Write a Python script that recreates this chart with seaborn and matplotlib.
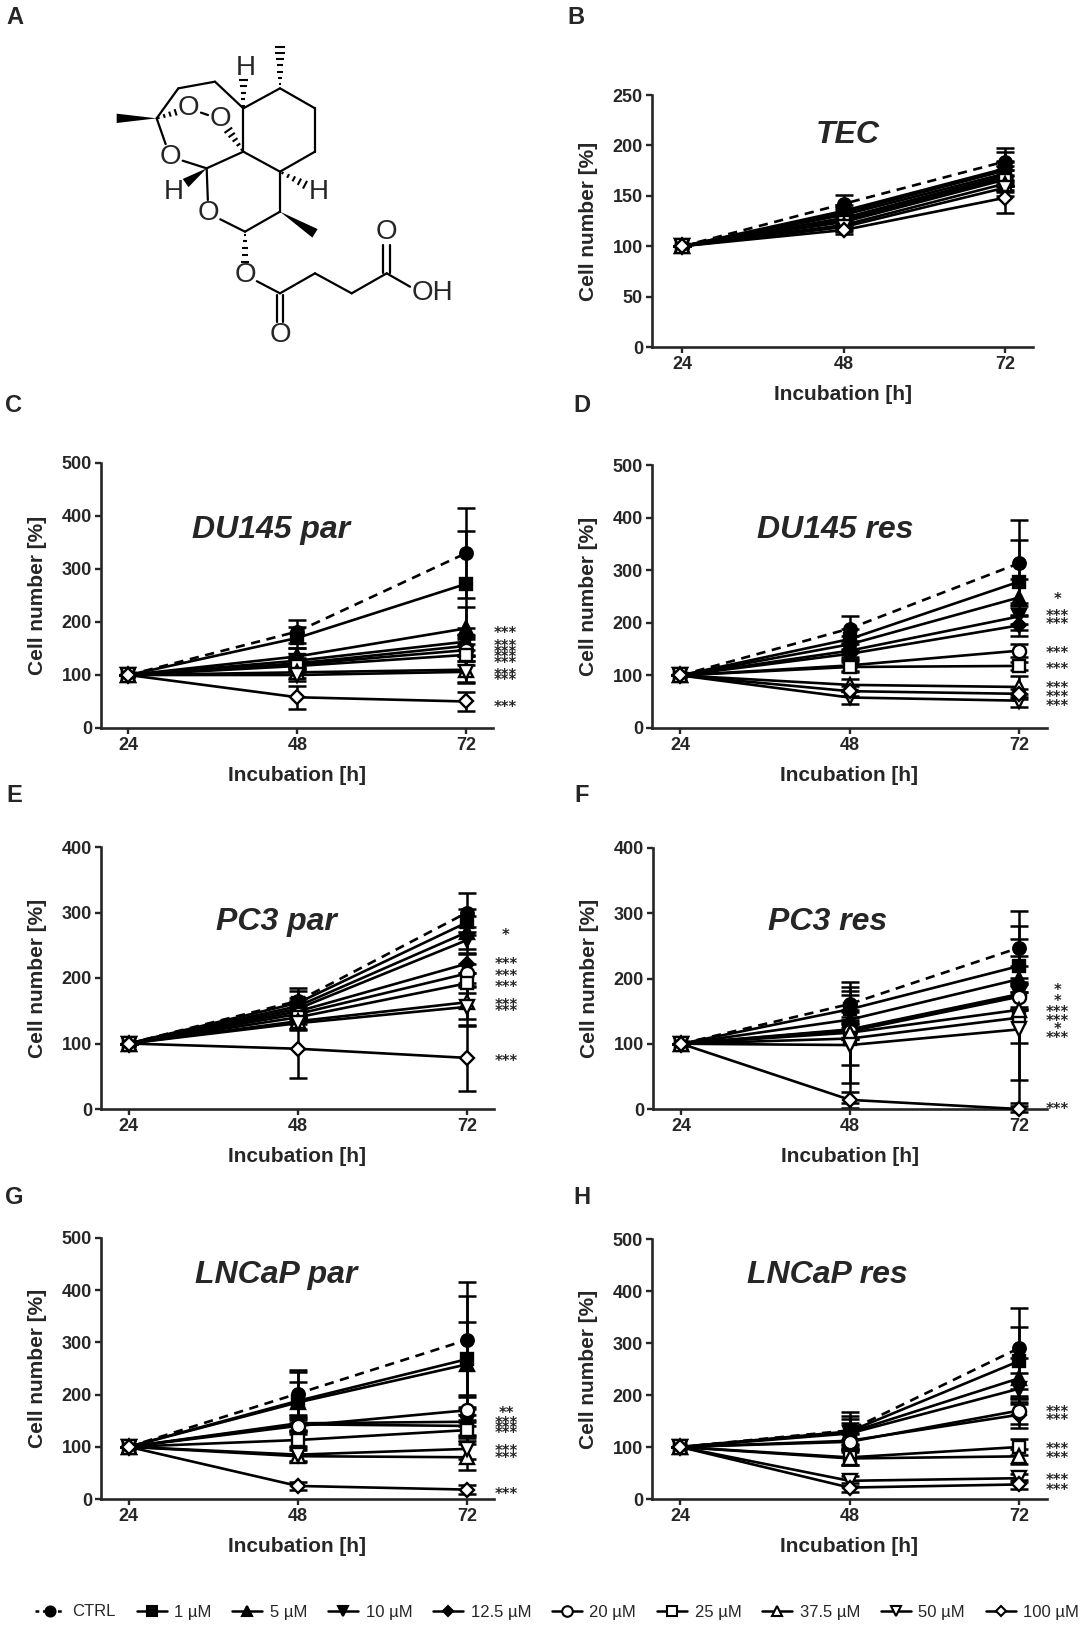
"""
Artesunate-like compound figure: structure (A) and cell growth curves (B-H)
"""
import numpy as np
import pandas as pd
import matplotlib
matplotlib.use("Agg")
import matplotlib.pyplot as plt
import matplotlib.transforms as mtransforms
from matplotlib.lines import Line2D
from matplotlib.patches import Polygon
import seaborn as sns

W, H = 1086, 1625

# 1. Data
TIMES = [24, 48, 72]
CONCS = ["CTRL", "1 µM", "5 µM", "10 µM", "12.5 µM", "20 µM", "25 µM", "37.5 µM", "50 µM", "100 µM"]

TEC_48 = [142, 135, 133, 131, 128, 126, 124, 121, 119, 116]
TEC_72 = [184, 177, 175, 172, 170, 168, 166, 162, 158, 148]
TEC_SD48 = [9, 6, 5, 5, 5, 4, 4, 4, 4, 4]
TEC_SD72 = [13, 16, 10, 12, 10, 8, 10, 8, 8, 15]

DUP_48 = [182, 170, 135, 127, 122, 120, 117, 105, 100, 58]
DUP_72 = [330, 272, 188, 163, 155, 147, 138, 110, 106, 50]
DUP_SD48 = [22, 20, 15, 12, 10, 10, 12, 10, 12, 22]
DUP_SD72 = [85, 100, 40, 25, 20, 20, 20, 25, 20, 18]
DUP_STAR_Y = [186, 161, 150, 140, 128, 106, 96, 45]
DUP_STAR_T = ["***", "***", "***", "***", "***", "***", "***", "***"]

DUR_48 = [189, 169, 159, 147, 141, 119, 116, 82, 58, 70]
DUR_72 = [313, 278, 248, 212, 195, 147, 118, 78, 52, 65]
DUR_SD48 = [24, 20, 15, 12, 10, 10, 10, 12, 12, 10]
DUR_SD72 = [82, 80, 35, 25, 20, 12, 8, 20, 12, 10]
DUR_STAR_Y = [251, 219, 205, 148, 119, 82, 66, 49]
DUR_STAR_T = ["*", "***", "***", "***", "***", "***", "***", "***"]

PCP_48 = [165, 162, 157, 153, 149, 145, 140, 134, 131, 92]
PCP_72 = [300, 285, 270, 258, 222, 207, 192, 163, 156, 78]
PCP_SD48 = [15, 22, 12, 12, 10, 10, 10, 12, 10, 45]
PCP_SD72 = [30, 20, 25, 20, 15, 15, 15, 25, 30, 50]
PCP_STAR_Y = [270, 226, 208, 192, 164, 154, 79]
PCP_STAR_T = ["*", "***", "***", "***", "***", "***", "***"]

PCR_48 = [161, 153, 137, 122, 121, 119, 108, 117, 98, 14]
PCR_72 = [247, 219, 199, 176, 174, 172, 140, 152, 122, 0]
PCR_SD48 = [20, 22, 15, 15, 12, 12, 41, 77, 89, 12]
PCR_SD72 = [56, 62, 20, 25, 20, 20, 39, 108, 113, 4]
PCR_STAR_Y = [188, 171, 154, 140, 127, 114, 5]
PCR_STAR_T = ["*", "*", "***", "***", "*", "***", "***"]

LNP_48 = [202, 188, 185, 145, 143, 140, 113, 82, 85, 25]
LNP_72 = [305, 268, 258, 148, 140, 170, 132, 80, 96, 18]
LNP_SD48 = [45, 55, 40, 15, 12, 12, 12, 12, 12, 8]
LNP_SD72 = [110, 120, 82, 25, 20, 30, 20, 25, 20, 8]
LNP_STAR_Y = [171, 152, 142, 132, 98, 84, 16]
LNP_STAR_T = ["**", "***", "***", "***", "***", "***", "***"]

LNR_48 = [132, 130, 128, 126, 112, 110, 80, 78, 35, 22]
LNR_72 = [290, 265, 232, 212, 162, 170, 100, 82, 40, 28]
LNR_SD48 = [35, 30, 25, 20, 15, 15, 15, 12, 10, 8]
LNR_SD72 = [78, 66, 40, 30, 25, 25, 15, 15, 8, 8]
LNR_STAR_Y = [174, 159, 103, 86, 42, 24]
LNR_STAR_T = ["***", "***", "***", "***", "***", "***"]

# 2. Styles
MARKERS = ["o", "s", "^", "v", "D", "o", "s", "^", "v", "D"]
FILLED = [True, True, True, True, True, False, False, False, False, False]
MSIZE = [9, 9, 9.5, 9.5, 7, 9.5, 9, 9.5, 9.5, 7]

PANELS = [
    dict(key="B", title="TEC", m48=TEC_48, m72=TEC_72, s48=TEC_SD48, s72=TEC_SD72,
         sy=[], st=[], ymax=250, ystep=50, rect=(652, 95, 1033, 347),
         xlim=(19.5, 76.2), txy=(48.7, 210), lxy=(576, 18)),
    dict(key="C", title="DU145 par", m48=DUP_48, m72=DUP_72, s48=DUP_SD48, s72=DUP_SD72,
         sy=DUP_STAR_Y, st=DUP_STAR_T, ymax=500, ystep=100, rect=(101, 463, 493, 728),
         xlim=(20.1, 75.8), txy=(44.2, 374), lxy=(14, 405)),
    dict(key="D", title="DU145 res", m48=DUR_48, m72=DUR_72, s48=DUR_SD48, s72=DUR_SD72,
         sy=DUR_STAR_Y, st=DUR_STAR_T, ymax=500, ystep=100, rect=(652, 465, 1047, 728),
         xlim=(20.0, 76.0), txy=(46.0, 376), lxy=(582, 405)),
    dict(key="E", title="PC3 par", m48=PCP_48, m72=PCP_72, s48=PCP_SD48, s72=PCP_SD72,
         sy=PCP_STAR_Y, st=PCP_STAR_T, ymax=400, ystep=100, rect=(101, 847, 494, 1109),
         xlim=(20.1, 75.8), txy=(44.9, 285), lxy=(14, 796)),
    dict(key="F", title="PC3 res", m48=PCR_48, m72=PCR_72, s48=PCR_SD48, s72=PCR_SD72,
         sy=PCR_STAR_Y, st=PCR_STAR_T, ymax=400, ystep=100, rect=(653, 848, 1047, 1109),
         xlim=(20.0, 76.0), txy=(44.8, 287), lxy=(582, 796)),
    dict(key="G", title="LNCaP par", m48=LNP_48, m72=LNP_72, s48=LNP_SD48, s72=LNP_SD72,
         sy=LNP_STAR_Y, st=LNP_STAR_T, ymax=500, ystep=100, rect=(101, 1238, 494, 1499),
         xlim=(20.1, 75.8), txy=(44.9, 429), lxy=(14, 1197)),
    dict(key="H", title="LNCaP res", m48=LNR_48, m72=LNR_72, s48=LNR_SD48, s72=LNR_SD72,
         sy=LNR_STAR_Y, st=LNR_STAR_T, ymax=500, ystep=100, rect=(652, 1239, 1047, 1499),
         xlim=(20.0, 76.0), txy=(44.8, 431), lxy=(582, 1197)),
]

sns.set_style("ticks")
plt.rcParams["font.family"] = ["Liberation Sans", "DejaVu Sans"]
plt.rcParams["axes.linewidth"] = 1.9


def px_rect(x0, y0, x1, y1):
    return [x0 / W, 1 - y1 / H, (x1 - x0) / W, (y1 - y0) / H]


def to_long(m48, m72):
    rows = []
    for i, c in enumerate(CONCS):
        for t, v in zip(TIMES, [100, m48[i], m72[i]]):
            rows.append({"Time": t, "Cell": v, "Conc": c})
    return pd.DataFrame(rows)


def plot_panel(fig, p):
    x0, y0, x1, y1 = p["rect"]
    ax = fig.add_axes(px_rect(x0, y0, x1, y1))
    df = to_long(p["m48"], p["m72"])
    for i, c in enumerate(CONCS):
        sub = df[df["Conc"] == c]
        sd = [0, p["s48"][i], p["s72"][i]]
        ax.errorbar(sub["Time"], sub["Cell"], yerr=sd, fmt="none", ecolor="k",
                    elinewidth=1.8, capsize=6.5, capthick=1.8, zorder=2, clip_on=False)
        sns.lineplot(data=sub, x="Time", y="Cell", ax=ax, color="k",
                     linestyle=(0, (3.5, 2.5)) if c == "CTRL" else "-", linewidth=1.9,
                     marker=MARKERS[i], markersize=MSIZE[i],
                     markerfacecolor="k" if FILLED[i] else "white",
                     markeredgecolor="k", markeredgewidth=1.7,
                     errorbar=None, legend=False, clip_on=False, zorder=3)
    ax.set_xlim(*p["xlim"])
    ax.set_ylim(0, p["ymax"])
    ax.set_xticks(TIMES)
    ax.set_yticks(np.arange(0, p["ymax"] + 1, p["ystep"]))
    for lab in ax.get_xticklabels() + ax.get_yticklabels():
        lab.set_fontweight("bold")
    ax.tick_params(axis="both", direction="out", length=4.5, width=1.7, labelsize=13, pad=2)
    sns.despine(ax=ax)
    ax.set_xlabel("Incubation [h]", fontsize=15, fontweight="bold")
    ax.set_ylabel("Cell number [%]", fontsize=15, fontweight="bold")
    ax.xaxis.set_label_coords(0.5, -38 / (y1 - y0))
    ax.yaxis.set_label_coords(-54 / (x1 - x0), 0.5)
    ax.text(p["txy"][0], p["txy"][1], p["title"], fontsize=23, fontweight="bold",
            fontstyle="italic", ha="center", va="center")
    star_tr = mtransforms.offset_copy(ax.transData, fig=fig, x=0, y=-6, units="points")
    for yv, t in zip(p["sy"], p["st"]):
        ax.text(77.5, yv, t, transform=star_tr, fontsize=10.5, fontweight="bold",
                family="DejaVu Sans", ha="center", va="baseline", clip_on=False)
    fig.text(p["lxy"][0] / W, 1 - p["lxy"][1] / H, p["key"], fontsize=17,
             fontweight="bold", ha="center", va="center")
    return ax


# 3. Chemical structure (panel A), drawn in image units
def bond(ax, a, b, ska=0, skb=0, lw=1.6):
    a, b = np.array(a, float), np.array(b, float)
    d = b - a
    u = d / np.hypot(*d)
    a2, b2 = a + u * ska, b - u * skb
    ax.plot([a2[0], b2[0]], [a2[1], b2[1]], color="k", lw=lw, solid_capstyle="round")


def hashed(ax, a, b, n=6, w0=3, w1=16, ska=0, skb=0):
    a, b = np.array(a, float), np.array(b, float)
    d = b - a
    u = d / np.hypot(*d)
    a, b = a + u * ska, b - u * skb
    d = b - a
    nrm = np.array([-u[1], u[0]])
    for t in np.linspace(0.1, 1, n):
        c = a + d * t
        hw = w0 + (w1 - w0) * t
        ax.plot([c[0] - nrm[0] * hw, c[0] + nrm[0] * hw],
                [c[1] - nrm[1] * hw, c[1] + nrm[1] * hw], color="k", lw=1.5,
                solid_capstyle="butt")


def wedge(ax, a, b, w=15, skb=0):
    a, b = np.array(a, float), np.array(b, float)
    d = b - a
    u = d / np.hypot(*d)
    b = b - u * skb
    nrm = np.array([-u[1], u[0]])
    ax.add_patch(Polygon([a, b + nrm * w, b - nrm * w], closed=True, color="k", lw=0))


def draw_structure(ax):
    ax.set_xlim(0, 1500)
    ax.set_ylim(1080, 0)
    ax.axis("off")
    C1, C2, C3, C4 = (840, 265), (945, 325), (945, 455), (840, 515)
    C5, C6, C7, C8, C9 = (730, 455), (730, 325), (645, 245), (535, 265), (470, 355)
    O10, O2, O11 = (565, 325), (662, 358), (510, 470)
    C12, O13, C14, C15 = (620, 505), (625, 640), (735, 695), (840, 635)
    O16, C17, O18 = (735, 825), (840, 880), (840, 1005)
    C19, C20, C21, O22, OH = (945, 820), (1055, 880), (1160, 820), (1160, 695), (1265, 880)
    s = 40
    for a, b in [(C6, C1), (C1, C2), (C2, C3), (C3, C4), (C4, C5), (C5, C6),
                 (C6, C7), (C7, C8), (C8, C9), (C12, C5), (C14, C15), (C15, C4),
                 (C17, C19), (C19, C20), (C20, C21)]:
        bond(ax, a, b)
    bond(ax, C9, O11, skb=s)
    bond(ax, O11, C12, ska=s)
    bond(ax, C12, O13, skb=s)
    bond(ax, O13, C14, ska=s)
    bond(ax, O16, C17, ska=s)
    bond(ax, O10, O2, ska=s, skb=s)
    bond(ax, C21, OH, skb=s)
    for off in (-10, 10):
        bond(ax, (C17[0] + off, C17[1] + 5), (O18[0] + off, O18[1]), skb=s)
        bond(ax, (C21[0] + off, C21[1]), (O22[0] + off, O22[1]), skb=s)
    hashed(ax, C1, (840, 140), n=7, w1=16)
    hashed(ax, C6, (730, 240), n=5, w1=13)
    hashed(ax, C9, O10, n=4, w1=10, skb=s)
    hashed(ax, C5, O2, n=5, w1=14, skb=s)
    hashed(ax, C4, (955, 575), n=5, w1=13, skb=45)
    hashed(ax, C14, O16, n=5, w1=12, skb=s)
    wedge(ax, C9, (350, 355), w=14)
    wedge(ax, C12, (520, 575), w=15, skb=45)
    wedge(ax, C15, (945, 700), w=15)
    for (x, y), t in [(O10, "O"), (O2, "O"), (O11, "O"), (O13, "O"), (O16, "O"),
                      (O18, "O"), (O22, "O"), ((1297, 880), "OH"), ((738, 205), "H"),
                      ((520, 575), "H"), ((955, 575), "H")]:
        ax.text(x, y, t, fontsize=20, ha="center", va="center")


fig = plt.figure(figsize=(W / 100, H / 100), dpi=100)
ax_a = fig.add_axes(px_rect(0, 0, 500, 360))
draw_structure(ax_a)
fig.text(15 / W, 1 - 17 / H, "A", fontsize=17, fontweight="bold", ha="center", va="center")

for p in PANELS:
    plot_panel(fig, p)

handles = []
for i, c in enumerate(CONCS):
    handles.append(Line2D([], [], color="k", lw=1.8,
                          linestyle=(0, (1.5, 1.5)) if c == "CTRL" else "-",
                          marker=MARKERS[i], markersize=MSIZE[i] * 0.8,
                          markerfacecolor="k" if FILLED[i] else "white",
                          markeredgecolor="k", markeredgewidth=1.5))
fig.legend(handles, CONCS, loc="center", bbox_to_anchor=(0.513, 1 - 1612 / H), ncol=10,
           frameon=False, handlelength=1.8, handletextpad=0.45, columnspacing=1.25,
           prop={"family": ["Liberation Sans Narrow", "Liberation Sans", "DejaVu Sans"],
                 "size": 12})

fig.savefig("out.png", dpi=100)
